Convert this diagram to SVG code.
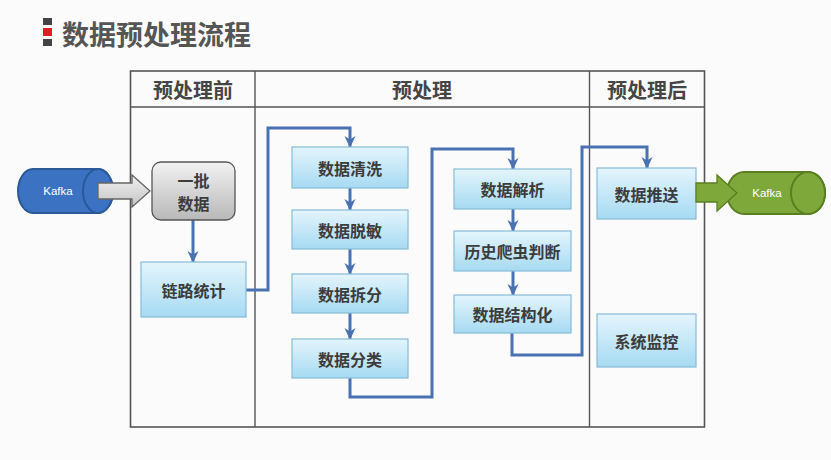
<svg xmlns="http://www.w3.org/2000/svg" width="831" height="460" viewBox="0 0 831 460">
<defs>
<linearGradient id="gBlue" x1="0" y1="0" x2="0" y2="1">
<stop offset="0" stop-color="#e4f5fc"/>
<stop offset="1" stop-color="#a6daf2"/>
</linearGradient>
<linearGradient id="gGray" x1="0" y1="0" x2="0" y2="1">
<stop offset="0" stop-color="#f2f2f2"/>
<stop offset="1" stop-color="#b8b8b8"/>
</linearGradient>
<linearGradient id="gArrow" x1="0" y1="0" x2="0" y2="1">
<stop offset="0" stop-color="#f0f0f0"/>
<stop offset="1" stop-color="#c4c4c4"/>
</linearGradient>
<marker id="ah" markerUnits="userSpaceOnUse" markerWidth="12" markerHeight="12" refX="11" refY="6" orient="auto">
<path d="M0,0.5 L12,6 L0,11.5 L3.5,6 Z" fill="#4a72b2"/>
</marker>
</defs>
<style>
.box{fill:url(#gBlue);stroke:#86bcd8;stroke-width:1.2}
.t{font-family:"Noto Sans CJK SC","Noto Sans",sans-serif;font-size:16px;font-weight:bold;fill:#3c3c3c;text-anchor:middle;dominant-baseline:central}
.h{font-family:"Noto Sans CJK SC","Noto Sans",sans-serif;font-size:20px;font-weight:bold;fill:#454545;text-anchor:middle;dominant-baseline:central}
.c{fill:none;stroke:#4a72b2;stroke-width:3;marker-end:url(#ah)}
.k{font-family:"Liberation Sans",Arial,sans-serif;font-size:11.5px;fill:#ffffff;text-anchor:middle;dominant-baseline:central}
</style>
<rect x="0" y="0" width="831" height="460" fill="#fbfbfb"/>
<g id="title">
<rect x="43" y="18" width="9" height="7" fill="#444"/>
<rect x="43" y="28" width="9" height="8" fill="#e02020"/>
<rect x="43" y="39" width="9" height="7" fill="#444"/>
<text x="62" y="33" font-family="'Noto Sans CJK SC',sans-serif" font-size="27" font-weight="bold" fill="#555" dominant-baseline="central">数据预处理流程</text>
</g>
<g id="table">
<rect x="130.5" y="71" width="574" height="356" fill="none" stroke="#555" stroke-width="1.6"/>
<line x1="130.5" y1="107" x2="704.5" y2="107" stroke="#555" stroke-width="1.4"/>
<line x1="255" y1="71" x2="255" y2="427" stroke="#555" stroke-width="1.4"/>
<line x1="589.5" y1="71" x2="589.5" y2="427" stroke="#555" stroke-width="1.4"/>
<text class="h" x="193" y="89">预处理前</text>
<text class="h" x="422" y="89">预处理</text>
<text class="h" x="647" y="89">预处理后</text>
</g>
<g id="connectors">
<path class="c" d="M193,220 V262"/>
<path class="c" d="M246,290 H268 V128 H350 V147"/>
<path class="c" d="M350,188 V210"/>
<path class="c" d="M350,249 V274"/>
<path class="c" d="M350,313 V339"/>
<path class="c" d="M350,378 V397 H432 V149 H513 V169"/>
<path class="c" d="M513,209 V231"/>
<path class="c" d="M513,271 V295"/>
<path class="c" d="M512,333 V355 H582 V147 H647 V168"/>
</g>
<g id="kafka-in">
<path d="M33,169 L98,169 A15,22 0 0 1 98,213 L33,213 A15,22 0 0 1 33,169 Z" fill="#3b73c2" stroke="#2a5898" stroke-width="2"/>
<ellipse cx="98" cy="191" rx="15" ry="22" fill="#3b73c2" stroke="#2a5898" stroke-width="2"/>
<text class="k" x="58" y="191">Kafka</text>
</g>
<g id="arrow-in">
<polygon points="98,183 132,183 132,175 150,191 132,207 132,199 98,199" fill="url(#gArrow)" stroke="#666" stroke-width="1.3"/>
</g>
<g id="batch">
<rect x="152" y="162" width="83" height="58" rx="9" fill="url(#gGray)" stroke="#555" stroke-width="1.3"/>
<text class="t" x="193.5" y="180">一批</text>
<text class="t" x="193.5" y="202.5">数据</text>
</g>
<g id="n-link"><rect class="box" x="141" y="262" width="105" height="55"/><text class="t" x="193.5" y="290">链路统计</text></g>
<g id="n-clean"><rect class="box" x="292" y="147" width="116" height="41"/><text class="t" x="350" y="167.5">数据清洗</text></g>
<g id="n-mask"><rect class="box" x="292" y="210" width="116" height="39"/><text class="t" x="350" y="229.5">数据脱敏</text></g>
<g id="n-split"><rect class="box" x="292" y="274" width="116" height="39"/><text class="t" x="350" y="293.5">数据拆分</text></g>
<g id="n-class"><rect class="box" x="292" y="339" width="116" height="39"/><text class="t" x="350" y="358.5">数据分类</text></g>
<g id="n-parse"><rect class="box" x="454" y="169" width="117" height="40"/><text class="t" x="512.5" y="189">数据解析</text></g>
<g id="n-crawler"><rect class="box" x="454" y="231" width="117" height="40"/><text class="t" x="512.5" y="251">历史爬虫判断</text></g>
<g id="n-struct"><rect class="box" x="454" y="295" width="117" height="38"/><text class="t" x="512.5" y="314">数据结构化</text></g>
<g id="n-push"><rect class="box" x="597" y="168" width="99" height="51"/><text class="t" x="646.5" y="193.5">数据推送</text></g>
<g id="n-monitor"><rect class="box" x="597" y="314" width="99" height="53"/><text class="t" x="646.5" y="340.5">系统监控</text></g>
<g id="kafka-out">
<path d="M744,172 L808,172 A17,21 0 0 1 808,214 L744,214 A17,21 0 0 1 744,172 Z" fill="#7fa83a" stroke="#5a7f22" stroke-width="2"/>
<ellipse cx="808" cy="193" rx="17" ry="21" fill="#7fa83a" stroke="#5a7f22" stroke-width="2"/>
<text class="k" x="767" y="193">Kafka</text>
</g>
<g id="arrow-out">
<polygon points="696,183 717,183 717,175 737,193 717,211 717,202 696,202" fill="#7fa83a" stroke="#5a7f22" stroke-width="1.3"/>
</g>
</svg>
